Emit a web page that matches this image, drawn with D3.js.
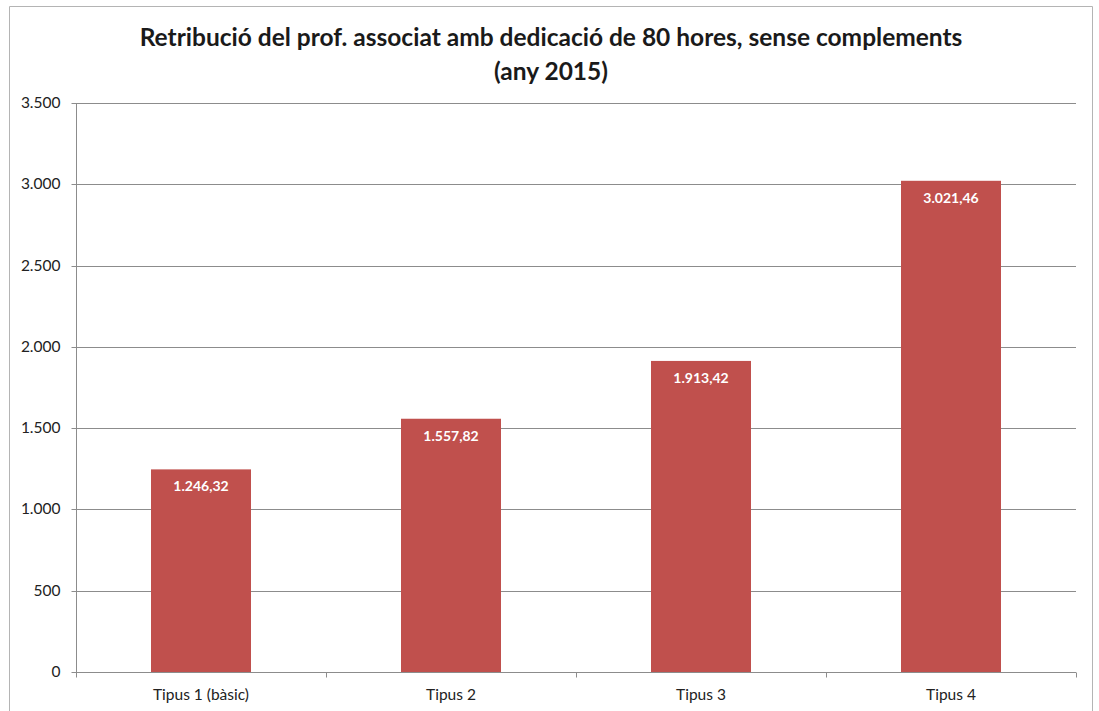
<!DOCTYPE html>
<html><head><meta charset="utf-8">
<script src="https://cdn.jsdelivr.net/npm/d3@7"></script>
<style>body{margin:0;background:#fff;}svg{display:block;font-family:Lato,"Open Sans",sans-serif;}</style>
</head><body>
<svg id="c" width="1099" height="711"></svg>
<script>
const categories = ["Tipus 1 (bàsic)", "Tipus 2", "Tipus 3", "Tipus 4"];
const values = [1246.32, 1557.82, 1913.42, 3021.46];
const valueLabels = ["1.246,32", "1.557,82", "1.913,42", "3.021,46"];
const yTicks = [0, 500, 1000, 1500, 2000, 2500, 3000, 3500];
const yTickLabels = ["0", "500", "1.000", "1.500", "2.000", "2.500", "3.000", "3.500"];
const titleLines = ["Retribució del prof. associat amb dedicació de 80 hores, sense complements", "(any 2015)"];

const svg = d3.select("#c");
const m = {l:76, r:1076, t:103, b:672};
// outer border
svg.append("path").attr("d","M9.5,711 V6.5 H1092.5 V711").attr("fill","none").attr("stroke","#b4b4b4").attr("stroke-width",1);

const x = d3.scaleBand().domain(categories).range([m.l, m.r]).paddingInner(0.6).paddingOuter(0.3);
const y = d3.scaleLinear().domain([0,3500]).range([m.b, m.t]);

// gridlines
svg.append("g").selectAll("line").data(yTicks.filter(d=>d>0)).join("line")
  .attr("x1", m.l).attr("x2", m.r).attr("y1", d=>Math.round(y(d))+0.5).attr("y2", d=>Math.round(y(d))+0.5)
  .attr("stroke","#8c8c8c").attr("stroke-width",1);

// bars
svg.append("g").selectAll("rect").data(values).join("rect")
  .attr("x",(d,i)=>x(categories[i])).attr("width",x.bandwidth())
  .attr("y",d=>y(d)).attr("height",d=>y(0)-y(d)).attr("fill","#c0504d");

// value labels
svg.append("g").selectAll("text").data(values).join("text")
  .attr("x",(d,i)=>x(categories[i])+x.bandwidth()/2).attr("y",d=>y(d)+22)
  .attr("text-anchor","middle").attr("fill","#fff").attr("font-weight","bold").attr("font-size",14)
  .text((d,i)=>valueLabels[i]);

// y axis
const yAxis = d3.axisLeft(y).tickValues(yTicks).tickFormat((d,i)=>yTickLabels[i]).tickSize(5).tickPadding(11);
const ga = svg.append("g").attr("transform",`translate(${m.l+0.5},0)`).call(yAxis);
ga.select(".domain").attr("stroke","#8c8c8c").attr("d",`M0,${m.t}V${m.b}`);
ga.selectAll(".tick line").attr("stroke","#8c8c8c");
ga.selectAll(".tick").attr("transform",d=>`translate(0,${Math.round(y(d))+0.5})`);
ga.selectAll("text").attr("font-size",15.5).attr("fill","#222").attr("font-family","Lato,'Open Sans',sans-serif");

// x axis
const gx = svg.append("g").attr("transform",`translate(0,${m.b+0.5})`);
gx.append("line").attr("x1",m.l).attr("x2",m.r).attr("stroke","#8c8c8c");
const bounds = d3.range(categories.length+1).map(i=>m.l + i*(m.r-m.l)/categories.length);
gx.selectAll("line.t").data(bounds).join("line").attr("class","t")
  .attr("x1",d=>Math.round(d)+0.5).attr("x2",d=>Math.round(d)+0.5).attr("y1",0).attr("y2",5).attr("stroke","#8c8c8c");
gx.selectAll("text").data(categories).join("text")
  .attr("x",d=>x(d)+x.bandwidth()/2).attr("y",27).attr("text-anchor","middle")
  .attr("font-size",15.5).attr("fill","#222").text(d=>d);

// title
svg.append("g").selectAll("text").data(titleLines).join("text")
  .attr("x",551).attr("y",(d,i)=>46+i*34).attr("text-anchor","middle")
  .attr("font-weight","bold").attr("font-size",24.5).attr("fill","#1a1a1a").text(d=>d);
</script>
</body></html>
